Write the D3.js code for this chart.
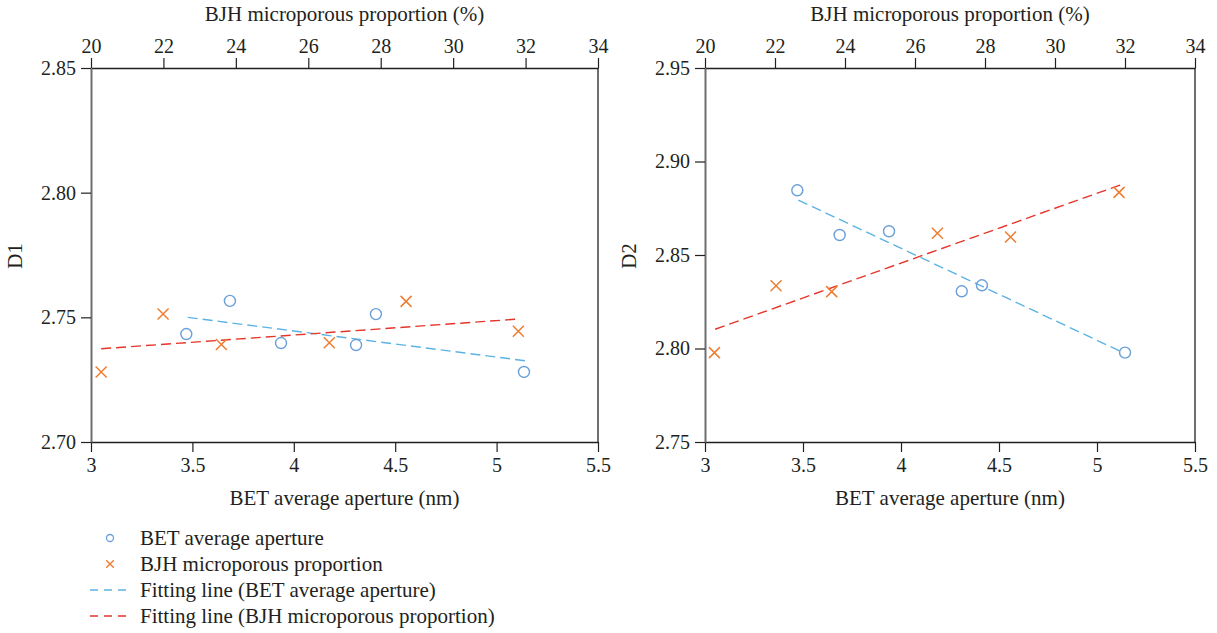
<!DOCTYPE html>
<html>
<head>
<meta charset="utf-8">
<script src="https://cdn.jsdelivr.net/npm/d3@7"></script>
<style>
  body { margin: 0; background: #fff; }
  svg text { font-family: "Liberation Serif", "DejaVu Serif", serif; fill: #231f20; }
</style>
</head>
<body>
<div id="chart"></div>
<script>
// BET average aperture (nm), bottom axis
const betD1 = [[3.47, 2.7433], [3.685, 2.7566], [3.937, 2.7397], [4.307, 2.7389], [4.405, 2.7513], [5.135, 2.7281]];
const betD2 = [[3.471, 2.8846], [3.687, 2.8607], [3.939, 2.8627], [4.31, 2.8306], [4.413, 2.8338], [5.143, 2.7978]];
// BJH microporous proportion (%), top axis
const bjhD1 = [[20.28, 2.7281], [21.99, 2.7513], [23.6, 2.7391], [26.58, 2.7398], [28.7, 2.7564], [31.8, 2.7444]];
const bjhD2 = [[20.27, 2.7978], [22.03, 2.8336], [23.62, 2.8304], [26.64, 2.8616], [28.73, 2.8596], [31.83, 2.8835]];
// fitting line end points
const fitBetD1 = [[3.477, 2.7500], [5.14, 2.7326]];
const fitBjhD1 = [[20.28, 2.7374], [31.79, 2.7493]];
const fitBetD2 = [[3.476, 2.8794], [5.134, 2.7978]];
const fitBjhD2 = [[20.29, 2.8103], [31.86, 2.8874]];

const bottomTicks = [3, 3.5, 4, 4.5, 5, 5.5];
const topTicks = [20, 22, 24, 26, 28, 30, 32, 34];
const d1Ticks = [2.70, 2.75, 2.80, 2.85];
const d2Ticks = [2.75, 2.80, 2.85, 2.90, 2.95];

const legendItems = ["BET average aperture", "BJH microporous proportion",
  "Fitting line (BET average aperture)", "Fitting line (BJH microporous proportion)"];

const C_CIRCLE = "#6a9fd8", C_CROSS = "#ee7d31", C_FITBET = "#5cb3e3", C_FITBJH = "#e5352b";

function init() {
  const svg = d3.select("#chart").append("svg")
    .attr("width", 1217).attr("height", 633);

  function panel(opts) {
    const x = d3.scaleLinear().domain([3, 5.5]).range([opts.left, opts.right]);
    const xt = d3.scaleLinear().domain([20, 34]).range([opts.left, opts.right]);
    const y = d3.scaleLinear().domain(opts.yDomain).range([442, 68]);
    const g = svg.append("g");

    // frame right side
    g.append("line").attr("x1", opts.right).attr("x2", opts.right)
      .attr("y1", 68).attr("y2", 442).attr("stroke", "#231f20").attr("stroke-width", 1.3);

    const bottom = g.append("g").attr("transform", "translate(0,442)")
      .call(d3.axisBottom(x).tickValues(bottomTicks).tickSize(10).tickPadding(6).tickSizeOuter(0)
        .tickFormat(d => d3.format("")(d)));
    const top = g.append("g").attr("transform", "translate(0,68)")
      .call(d3.axisTop(xt).tickValues(topTicks).tickSize(10).tickPadding(5).tickSizeOuter(0));
    const left = g.append("g").attr("transform", "translate(" + opts.left + ",0)")
      .call(d3.axisLeft(y).tickValues(opts.yTicks).tickSize(10).tickPadding(5).tickSizeOuter(0)
        .tickFormat(d3.format(".2f")));

    [bottom, top, left].forEach(a => {
      a.select(".domain").attr("stroke", "#231f20").attr("stroke-width", 1.4);
      a.selectAll(".tick line").attr("stroke", "#231f20").attr("stroke-width", 1.2);
      a.selectAll("text").attr("font-size", 20).attr("fill", "#231f20")
        .style("font-family", "'Liberation Serif', serif");
    });
    left.select(".domain").attr("stroke", "#6d6e70").attr("stroke-width", 2);

    // axis titles
    const cx = (opts.left + opts.right) / 2;
    g.append("text").attr("x", cx).attr("y", 21).attr("text-anchor", "middle")
      .attr("font-size", 21).text("BJH microporous proportion (%)");
    g.append("text").attr("x", cx).attr("y", 505).attr("text-anchor", "middle")
      .attr("font-size", 21).text("BET average aperture (nm)");
    g.append("text").attr("transform", "translate(" + (opts.left - 69) + ",256) rotate(-90)")
      .attr("text-anchor", "middle").attr("font-size", 21).text(opts.yLabel);

    // fitting lines
    const lineBet = d3.line().x(d => x(d[0])).y(d => y(d[1]));
    const lineBjh = d3.line().x(d => xt(d[0])).y(d => y(d[1]));
    g.append("path").attr("d", lineBet(opts.fitBet)).attr("fill", "none")
      .attr("stroke", C_FITBET).attr("stroke-width", 1.4).attr("stroke-dasharray", "10,5");
    g.append("path").attr("d", lineBjh(opts.fitBjh)).attr("fill", "none")
      .attr("stroke", C_FITBJH).attr("stroke-width", 1.4).attr("stroke-dasharray", "10,5");

    // circles
    g.selectAll(".bet").data(opts.bet).join("circle")
      .attr("cx", d => x(d[0])).attr("cy", d => y(d[1])).attr("r", 5.5)
      .attr("fill", "none").attr("stroke", C_CIRCLE).attr("stroke-width", 1.4);

    // crosses
    g.selectAll(".bjh").data(opts.bjh).join("path")
      .attr("d", d => {
        const px = xt(d[0]), py = y(d[1]), s = 5.5;
        return "M" + (px - s) + "," + (py - s) + "L" + (px + s) + "," + (py + s) +
          "M" + (px - s) + "," + (py + s) + "L" + (px + s) + "," + (py - s);
      })
      .attr("stroke", C_CROSS).attr("stroke-width", 1.5).attr("fill", "none");
  }

  panel({ left: 91, right: 598, yDomain: [2.70, 2.85], yTicks: d1Ticks, yLabel: "D1",
    bet: betD1, bjh: bjhD1, fitBet: fitBetD1, fitBjh: fitBjhD1 });
  panel({ left: 705, right: 1195, yDomain: [2.75, 2.95], yTicks: d2Ticks, yLabel: "D2",
    bet: betD2, bjh: bjhD2, fitBet: fitBetD2, fitBjh: fitBjhD2 });

  // legend
  const lg = svg.append("g");
  const rowY = [538, 564, 590, 616];
  legendItems.forEach((t, i) => {
    const yy = rowY[i];
    if (i === 0) {
      lg.append("circle").attr("cx", 110).attr("cy", yy).attr("r", 3.5)
        .attr("fill", "none").attr("stroke", C_CIRCLE).attr("stroke-width", 1.3);
    } else if (i === 1) {
      const s = 3.8;
      lg.append("path").attr("d", "M" + (110 - s) + "," + (yy - s) + "L" + (110 + s) + "," + (yy + s) +
        "M" + (110 - s) + "," + (yy + s) + "L" + (110 + s) + "," + (yy - s))
        .attr("stroke", C_CROSS).attr("stroke-width", 1.4);
    } else {
      lg.append("line").attr("x1", 90).attr("x2", 128).attr("y1", yy).attr("y2", yy)
        .attr("stroke", i === 2 ? C_FITBET : C_FITBJH).attr("stroke-width", 1.4)
        .attr("stroke-dasharray", "8,6");
    }
    lg.append("text").attr("x", 140).attr("y", yy + 7).attr("font-size", 21).text(t);
  });
}

window.addEventListener('load', init);
</script>
</body>
</html>
